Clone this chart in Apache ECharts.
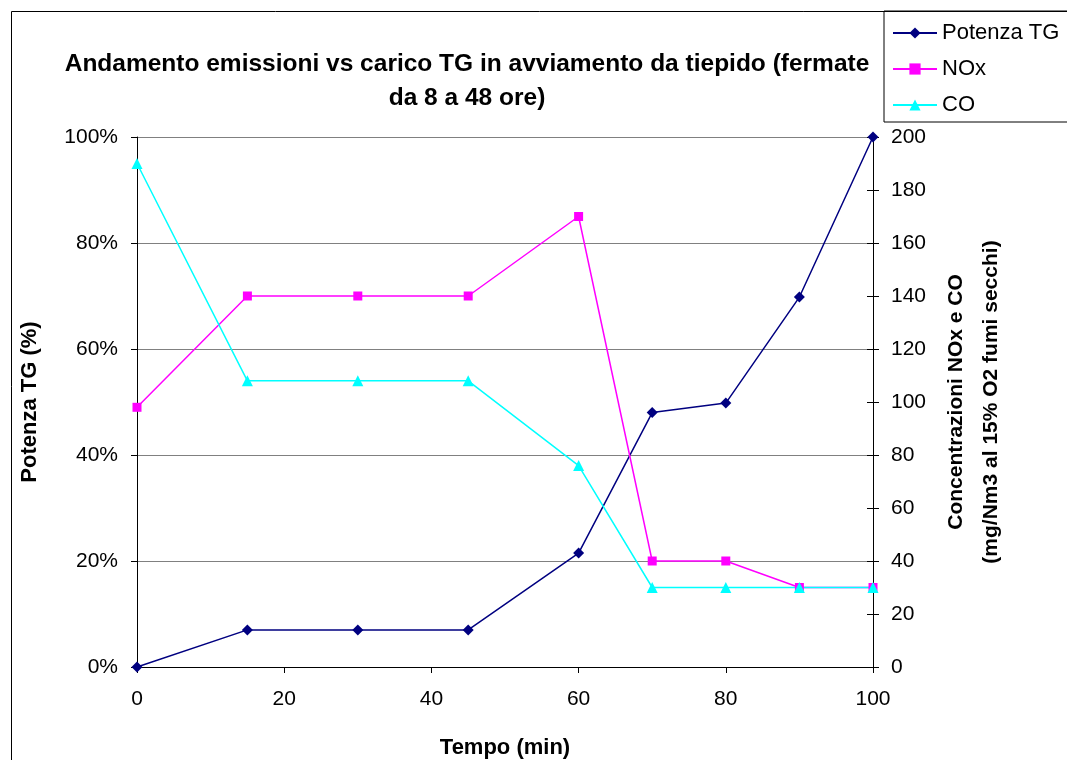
<!DOCTYPE html>
<html>
<head>
	<meta charset="utf-8">
	<title>Andamento emissioni</title>
	<script src="https://cdn.jsdelivr.net/npm/echarts@6/dist/echarts.min.js"></script>
	<style>
		body{margin:0;background:#fff;}
		#chart{width:1067px;height:760px;}
	</style>
</head>
<body>
	<div id="chart"></div>
</body>
<script type="text/javascript">
//dati
var tempo=[0,15,30,45,60,70,80,90,100]
var potenza=[0,0.07,0.07,0.07,0.215,0.48,0.498,0.698,1.0]
var nox=[98,140,140,140,170,40,40,30,30]
var co=[190,108,108,108,76,30,30,30,30]

var font='"Liberation Sans", Arial, sans-serif'

function coppie(vals){
    var out=[]
    for(var i=0;i<tempo.length;i++){
        out.push([tempo[i],vals[i]])
    }
    return out
}

var option={
    animation:false,
    textStyle:{fontFamily:font},
    title:{
        text:'Andamento emissioni vs carico TG in avviamento da tiepido (fermate\nda 8 a 48 ore)',
        left:462,
        top:42,
        textAlign:'center',
        textStyle:{fontSize:24.5,fontWeight:'bold',color:'#000',lineHeight:34,fontFamily:font}
    },
    legend:{
        left:884,
        top:11,
        orient:'vertical',
        padding:[11,20,6,8],
        itemGap:14,
        itemWidth:44,
        itemHeight:14,
        borderColor:'#000',
        borderWidth:1,
        textStyle:{fontSize:22,color:'#000',fontFamily:font},
        data:['Potenza TG','NOx','CO']
    },
    graphic:[{
        type:'rect',
        shape:{x:11.5,y:11.5,width:1200,height:900},
        style:{fill:'none',stroke:'#000',lineWidth:1},
        silent:true
    }],
    grid:{left:137,right:194,top:137,bottom:93,outerBoundsMode:'none'},
    xAxis:{
        type:'value',
        min:0,max:100,interval:20,
        name:'Tempo (min)',
        nameLocation:'middle',
        nameGap:70,
        nameTextStyle:{fontSize:22,fontWeight:'bold',color:'#000'},
        axisLine:{lineStyle:{color:'#000',width:1}},
        axisTick:{show:true,length:6,lineStyle:{color:'#000'}},
        axisLabel:{fontSize:21,color:'#000',margin:22},
        splitLine:{show:false}
    },
    yAxis:[{
        type:'value',
        min:0,max:1,interval:0.2,
        position:'left',
        name:'Potenza TG (%)',
        nameLocation:'middle',
        nameGap:96,
        nameRotate:90,
        nameTextStyle:{fontSize:22,fontWeight:'bold',color:'#000'},
        axisLine:{show:true,lineStyle:{color:'#000'}},
        axisTick:{show:true,length:6,lineStyle:{color:'#000'}},
        axisLabel:{fontSize:21,color:'#000',margin:19,formatter:function(v){return Math.round(v*100)+'%'}},
        splitLine:{show:true,lineStyle:{color:'#808080',width:1}}
    },{
        type:'value',
        min:0,max:200,interval:20,
        position:'right',
        name:'Concentrazioni NOx e CO\n(mg/Nm3 al 15% O2 fumi secchi)',
        nameLocation:'middle',
        nameGap:66,
        nameRotate:90,
        nameTextStyle:{fontSize:21,fontWeight:'bold',color:'#000',lineHeight:35},
        axisLine:{show:true,lineStyle:{color:'#000'}},
        axisTick:{show:true,length:6,lineStyle:{color:'#000'}},
        axisLabel:{fontSize:21,color:'#000',margin:18},
        splitLine:{show:false}
    },{
        //solo per i tick incrociati sull'asse destro
        type:'value',
        min:0,max:200,interval:20,
        position:'right',
        axisLine:{show:false},
        axisTick:{show:true,inside:true,length:6,lineStyle:{color:'#000'}},
        axisLabel:{show:false},
        splitLine:{show:false}
    }],
    series:[{
        name:'Potenza TG',
        type:'line',
        yAxisIndex:0,
        data:coppie(potenza),
        symbol:'diamond',
        symbolSize:11,
        color:'#000080',
        lineStyle:{width:1.5,color:'#000080'},
        itemStyle:{color:'#000080'}
    },{
        name:'NOx',
        type:'line',
        yAxisIndex:1,
        data:coppie(nox),
        symbol:'rect',
        symbolSize:9,
        color:'#FF00FF',
        lineStyle:{width:1.5,color:'#FF00FF'},
        itemStyle:{color:'#FF00FF'}
    },{
        name:'CO',
        type:'line',
        yAxisIndex:1,
        data:coppie(co),
        symbol:'triangle',
        symbolSize:11,
        color:'#00FFFF',
        lineStyle:{width:1.5,color:'#00FFFF'},
        itemStyle:{color:'#00FFFF'}
    }]
};

var myChart=echarts.init(document.getElementById('chart'));
myChart.setOption(option);
</script>
</html>
